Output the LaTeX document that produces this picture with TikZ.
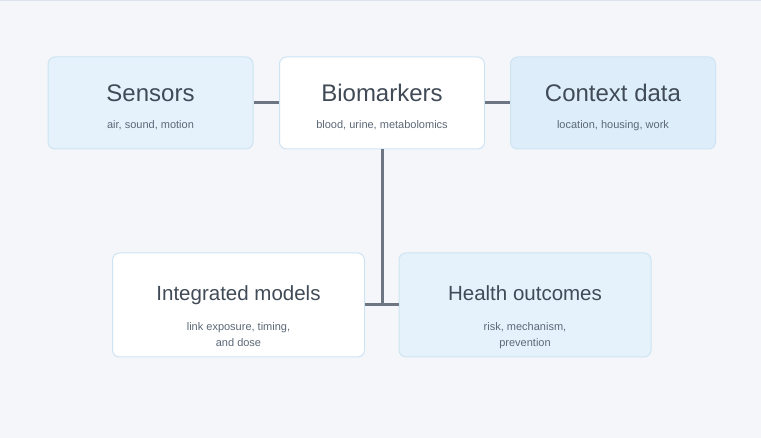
\documentclass[tikz,border=0pt]{standalone}
\usepackage{fontspec}
\setmainfont{Liberation Sans}
\usetikzlibrary{positioning}
\definecolor{pagebg}{HTML}{F5F6FA}
\definecolor{pagetop}{HTML}{DDE3EC}
\definecolor{boxline}{HTML}{CFE4F3}
\definecolor{paleblue}{HTML}{E6F2FB}
\definecolor{midblue}{HTML}{DDEEFA}
\definecolor{titletext}{HTML}{414B57}
\definecolor{subtext}{HTML}{5C6877}
\definecolor{linkgrey}{HTML}{6E7583}

\begin{document}
\begin{tikzpicture}[x=1pt,y=-1pt,box/.style={draw=boxline,line width=1pt,rounded corners=7pt,minimum width=205pt,minimum height=92pt},wide/.style={minimum width=252pt,minimum height=104pt},title/.style={anchor=base,inner sep=0pt,text=titletext,font=\fontsize{24}{28}\selectfont},small title/.style={title,font=\fontsize{20.5}{24}\selectfont},sub/.style={anchor=north,inner sep=0pt,align=center,text=subtext,font=\fontsize{11}{16}\selectfont},link/.style={draw=linkgrey,line width=3pt}]
\fill[pagebg] (0,0) rectangle (761,438);
\fill[pagetop] (0,0) rectangle (761,1.5);
% upper row
\node[box,fill=paleblue] (sens) at (150.5,103) {};
\node[box,fill=white] (bio) at (382,103) {};
\node[box,fill=midblue] (ctx) at (613,103) {};
\node[title] (senstitle) at ([yshift=1.5pt]sens.center) {Sensors};
\node[sub] (senssub) at ([yshift=-17pt]sens.center) {air, sound, motion};
\node[title] (biotitle) at ([yshift=1.5pt]bio.center) {Biomarkers};
\node[sub] (biosub) at ([yshift=-17pt]bio.center) {blood, urine, metabolomics};
\node[title] (ctxtitle) at ([yshift=1.5pt]ctx.center) {Context data};
\node[sub] (ctxsub) at ([yshift=-17pt]ctx.center) {location, housing, work};
% lower row
\node[box,wide,fill=white] (integ) at (238.5,305) {};
\node[box,wide,fill=paleblue] (health) at (525,305) {};
\node[small title] (integtitle) at ([yshift=4pt]integ.center) {Integrated models};
\node[sub] (integsub) at ([yshift=-17pt]integ.center) {link exposure, timing,\\and dose};
\node[small title] (healthtitle) at ([yshift=4pt]health.center) {Health outcomes};
\node[sub] (healthsub) at ([yshift=-17pt]health.center) {risk, mechanism,\\prevention};
\coordinate (join) at (bio.south |- integ.east);
\draw[link] (sens) -- (bio);
\draw[link] (bio) -- (ctx);
\draw[link] (bio) -- (join);
\draw[link] (integ) -- (health);
\end{tikzpicture}
\end{document}
